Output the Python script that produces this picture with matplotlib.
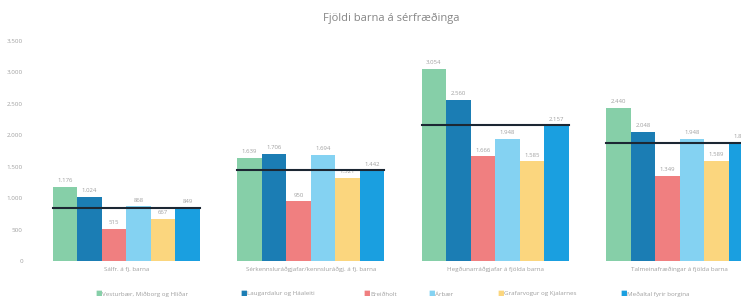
import numpy as np
import matplotlib
matplotlib.use("Agg")
import matplotlib.pyplot as plt

plt.rcParams["font.family"] = ["Open Sans", "DejaVu Sans"]

# ---- data ----
categories = ["Sálfr. á fj. barna",
              "Sérkennsluráðgjafar/kennsluráðgj. á fj. barna",
              "Hegðunarráðgjafar á fjölda barna",
              "Talmeinafræðingar á fjölda barna"]
series = ["Vesturbær, Miðborg og Hlíðar", "Laugardalur og Háaleiti", "Breiðholt",
          "Árbær", "Grafarvogur og Kjalarnes", "Meðaltal fyrir borgina"]
vesturbaer = [1176, 1639, 3054, 2440]
laugardalur = [1024, 1706, 2560, 2048]
breidholt = [515, 950, 1666, 1349]
arbaer = [868, 1694, 1948, 1948]
grafarvogur = [667, 1321, 1585, 1589]
medaltal = [849, 1442, 2157, 1873]

COLORS = ["#86cfa8", "#1b7db4", "#f07f80", "#84d2f2", "#fbd67e", "#1a9fe0"]
GRAY = "#a0a0a0"

values = [vesturbaer, laugardalur, breidholt, arbaer, grafarvogur, medaltal]

fig = plt.figure(figsize=(7.41, 3.01), dpi=100)
ax = fig.add_axes([34 / 741, 40 / 301, 738 / 741, 220 / 301])

x = np.arange(len(categories))
w = 0.133
for i, (vals, col) in enumerate(zip(values, COLORS)):
    pos = x + (i - 2.5) * w
    ax.bar(pos, vals, width=w, color=col, linewidth=0)
    for p, v in zip(pos, vals):
        ax.text(p, v + 60, f"{v:,}".replace(",", "."), ha="center", va="bottom",
                fontsize=4.3, color=GRAY)

# average line across each group
for xi, m in zip(x, medaltal):
    ax.plot([xi - 3 * w, xi + 3 * w], [m, m], color="#1c2733", lw=1.5, zorder=5)

ax.set_xlim(-0.5, 3.5)
ax.set_ylim(0, 3500)
ax.set_yticks(np.arange(0, 3501, 500))
ax.set_yticklabels([f"{t:,}".replace(",", ".") for t in range(0, 3501, 500)],
                   fontsize=4.5, color=GRAY)
ax.set_xticks(x)
ax.set_xticklabels(categories, fontsize=4.5, color=GRAY)
ax.tick_params(length=0, pad=4)
ax.tick_params(axis="y", pad=8)
for s in ax.spines.values():
    s.set_visible(False)

fig.text(391 / 741, 1 - 18 / 301, "Fjöldi barna á sérfræðinga", ha="center",
         va="center", fontsize=8, color="#858585")

# legend
leg_x = [95, 240, 363, 428, 497, 620]
for lx, lab, col in zip(leg_x, series, COLORS):
    fig.text(lx / 741, 1 - 294 / 301, "■", color=col, fontsize=5, ha="left", va="center")
    fig.text((lx + 7) / 741, 1 - 294 / 301, lab, color=GRAY, fontsize=4.5,
             ha="left", va="center")

fig.savefig("out.png", dpi=100)
